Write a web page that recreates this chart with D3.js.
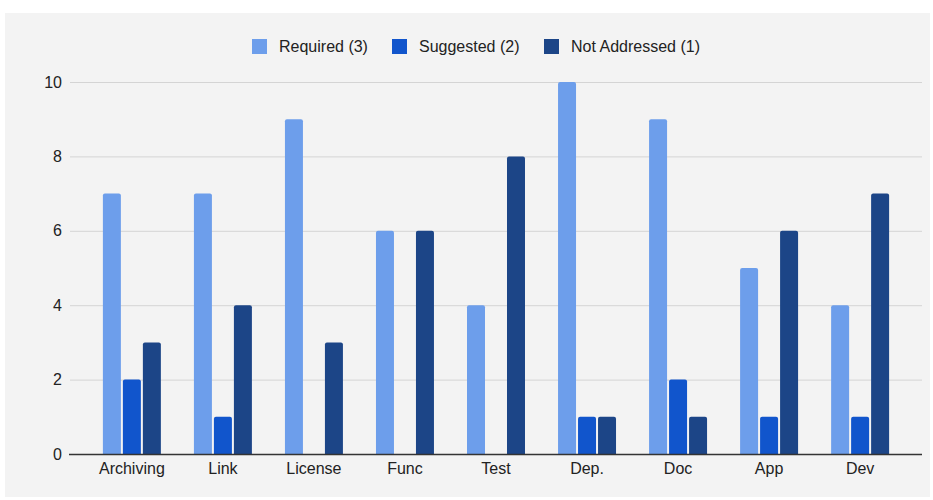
<!DOCTYPE html>
<html>
<head>
<meta charset="utf-8">
<script src="https://cdn.jsdelivr.net/npm/d3@7"></script>
<style>
  body { margin: 0; background: #fff; }
  svg { display: block; font-family: "Liberation Sans", Arial, sans-serif; }
</style>
</head>
<body>
<svg width="933" height="500"></svg>
<script>
// chart data
var categories = ["Archiving", "Link", "License", "Func", "Test", "Dep.", "Doc", "App", "Dev"];
var seriesNames = ["Required (3)", "Suggested (2)", "Not Addressed (1)"];
var required = [7, 7, 9, 6, 4, 10, 9, 5, 4];
var suggested = [2, 1, 0, 0, 0, 1, 2, 1, 1];
var notAddressed = [3, 4, 3, 6, 8, 1, 1, 6, 7];
var yTicks = [0, 2, 4, 6, 8, 10];
var colors = ["#6d9eeb", "#1155cc", "#1c4587"];

var svg = d3.select("svg");

// gray panel
svg.append("rect")
    .attr("x", 5).attr("y", 13)
    .attr("width", 925).attr("height", 484)
    .attr("fill", "#f3f3f3");

// plot area (window.top is reserved, so prefix names)
var plotLeft = 70, plotRight = 922, plotTop = 82, plotBottom = 454;

var y = d3.scaleLinear().domain([0, 10]).range([plotBottom, plotTop]);

// categories sit in the middle of the plot area
var x0 = d3.scaleBand()
    .domain(categories)
    .range([86.5, 905.5])
    .paddingInner(0.363)
    .paddingOuter(0.18);

var x1 = d3.scaleBand()
    .domain(seriesNames)
    .range([0, x0.bandwidth()])
    .paddingInner(0.1);

// gridlines
svg.append("g")
    .selectAll("line")
    .data(yTicks.filter(function (d) { return d > 0; }))
    .enter().append("line")
    .attr("x1", plotLeft).attr("x2", plotRight)
    .attr("y1", function (d) { return y(d) + 0.5; })
    .attr("y2", function (d) { return y(d) + 0.5; })
    .attr("stroke", "#d4d4d4")
    .attr("stroke-width", 1);

// y labels
var yAxis = svg.append("g")
    .attr("transform", "translate(" + (plotLeft - 8) + ",0)")
    .call(d3.axisLeft(y).tickValues(yTicks).tickSize(0).tickPadding(0));
yAxis.select(".domain").remove();
yAxis.selectAll("text")
    .attr("font-size", 16)
    .attr("font-family", "Liberation Sans, Arial, sans-serif")
    .attr("fill", "#222");

var rows = categories.map(function (c, i) {
    return { cat: c, values: [required[i], suggested[i], notAddressed[i]] };
});

var groups = svg.append("g")
    .selectAll("g")
    .data(rows)
    .enter().append("g")
    .attr("transform", function (d) { return "translate(" + x0(d.cat) + ",0)"; });

groups.selectAll("path")
    .data(function (d) {
        return d.values.map(function (v, k) { return { name: seriesNames[k], value: v, k: k }; })
            .filter(function (e) { return e.value > 0; });
    })
    .enter().append("path")
    .attr("fill", function (d) { return colors[d.k]; })
    .attr("d", function (d) {
        var bx = x1(d.name), bw = x1.bandwidth(), by = y(d.value), r = 2;
        return "M" + bx + "," + plotBottom +
            "V" + (by + r) + "Q" + bx + "," + by + " " + (bx + r) + "," + by +
            "H" + (bx + bw - r) + "Q" + (bx + bw) + "," + by + " " + (bx + bw) + "," + (by + r) +
            "V" + plotBottom + "Z";
    });

// baseline
svg.append("line")
    .attr("x1", plotLeft - 1).attr("x2", plotRight)
    .attr("y1", plotBottom + 0.5).attr("y2", plotBottom + 0.5)
    .attr("stroke", "#333")
    .attr("stroke-width", 1.5);

// x labels
var xAxis = svg.append("g")
    .attr("transform", "translate(0," + plotBottom + ")")
    .call(d3.axisBottom(x0).tickSize(0).tickPadding(9));
xAxis.select(".domain").remove();
xAxis.selectAll("text")
    .attr("font-size", 16)
    .attr("font-family", "Liberation Sans, Arial, sans-serif")
    .attr("fill", "#222");

// legend
var legendX = [252, 392, 544];
var legend = svg.append("g")
    .selectAll("g")
    .data(seriesNames)
    .enter().append("g")
    .attr("transform", function (d, i) { return "translate(" + legendX[i] + ",39)"; });

legend.append("rect")
    .attr("width", 15).attr("height", 15)
    .attr("fill", function (d, i) { return colors[i]; });

legend.append("text")
    .attr("x", 27).attr("y", 7.5)
    .attr("dy", "0.35em")
    .attr("font-size", 16)
    .attr("fill", "#222")
    .text(function (d) { return d; });
</script>
</body>
</html>
